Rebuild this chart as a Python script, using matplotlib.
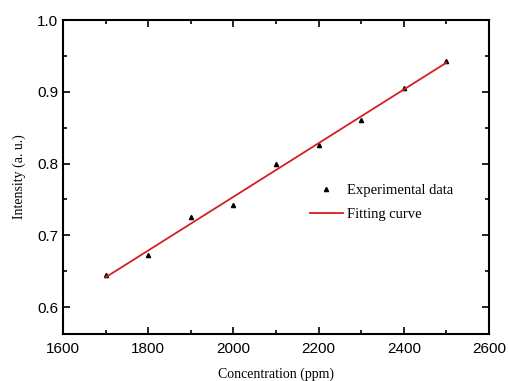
import numpy as np
import matplotlib.pyplot as plt

conc = [1700, 1800, 1900, 2000, 2100, 2200, 2300, 2400, 2500]
intensity = [0.645, 0.672, 0.726, 0.742, 0.800, 0.826, 0.860, 0.905, 0.943]

# linear fit of the measured points
slope, intercept = np.polyfit(conc, intensity, 1)
fit_x = np.array([conc[0], conc[-1]])
fit_y = slope * fit_x + intercept

fig = plt.figure(figsize=(5.08, 3.81), dpi=100)
ax = fig.add_axes([63 / 508, 1 - 334 / 381, (489 - 63) / 508, (334 - 20) / 381])

ax.plot(conc, intensity, "^", color="black", markersize=3, label="Experimental data")
ax.plot(fit_x, fit_y, color="#d42020", linewidth=1.3, label="Fitting curve")

ax.set_xlim(1600, 2600)
ax.set_ylim(0.5625, 1.0)
ax.set_xticks([1600, 1800, 2000, 2200, 2400, 2600])
ax.set_xticks([1700, 1900, 2100, 2300, 2500], minor=True)
ax.set_yticks([0.6, 0.7, 0.8, 0.9, 1.0])
ax.set_yticks([0.65, 0.75, 0.85, 0.95], minor=True)
ax.tick_params(which="both", direction="in", top=True, right=True, width=1.2)
ax.tick_params(which="major", length=5, labelsize=11)
ax.tick_params(which="minor", length=3)
ax.tick_params(axis="x", pad=6)
for lab in ax.get_xticklabels() + ax.get_yticklabels():
    lab.set_family("Liberation Sans")
for s in ax.spines.values():
    s.set_linewidth(1.5)

ax.set_xlabel("Concentration (ppm)", family="Liberation Serif", fontsize=10, labelpad=8)
ax.set_ylabel("Intensity (a. u.)", family="Liberation Serif", fontsize=10, labelpad=8)

ax.legend(loc="center left", bbox_to_anchor=(0.55, 0.42), frameon=False,
          prop={"family": "Liberation Serif", "size": 10.5}, handlelength=2.2,
          handletextpad=0.3, labelspacing=0.75)

fig.savefig("out.png", dpi=100)
